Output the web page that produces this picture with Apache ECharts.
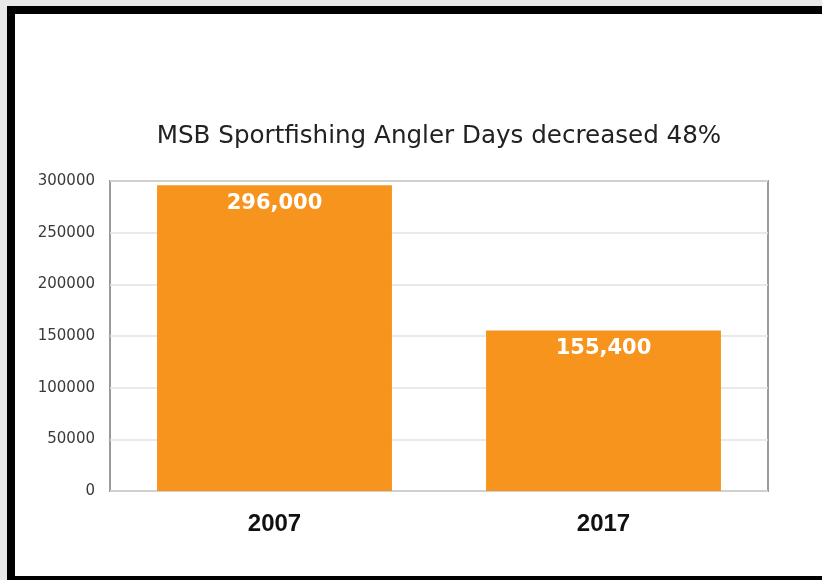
<!DOCTYPE html>
<html>
<head>
<meta charset="utf-8">
<script src="https://cdn.jsdelivr.net/npm/echarts@6/dist/echarts.min.js"></script>
<style>
  html, body { margin: 0; padding: 0; width: 822px; height: 580px; overflow: hidden; background: #e8e8e8; }
  #frame { position: absolute; left: 7px; top: 6px; width: 815px; height: 574px; background: #ffffff;
           border-left: 8px solid #000; border-top: 8px solid #000; border-bottom: 4px solid #000; box-sizing: border-box; }
  #chart { position: absolute; left: 0; top: 0; width: 822px; height: 580px; }
</style>
</head>
<body>
<div id="frame"></div>
<div id="chart"></div>
<script>
const titleText = 'MSB Sportfishing Angler Days decreased 48%';
const categories = ['2007', '2017'];
const anglerDays = [296000, 155400];
const yMin = 0, yMax = 300000, yInterval = 50000;

const chart = echarts.init(document.getElementById('chart'), null, { renderer: 'canvas' });
chart.setOption({
  backgroundColor: 'transparent',
  animation: false,
  title: {
    text: titleText,
    left: 434,
    top: 119,
    textAlign: 'center',
    textStyle: { fontFamily: 'DejaVu Sans, sans-serif', fontSize: 24.6, fontWeight: 'normal', color: '#222' }
  },
  grid: {
    left: 110, top: 181, right: 54, bottom: 89,
    show: true, borderColor: '#9a9a9a', borderWidth: 2, backgroundColor: 'transparent'
  },
  xAxis: {
    type: 'category',
    data: categories,
    axisLine: { show: false },
    axisTick: { show: false },
    axisLabel: { margin: 21, fontFamily: 'Liberation Sans, Arial, sans-serif', fontSize: 24, fontWeight: 'bold', color: '#111' }
  },
  yAxis: {
    type: 'value',
    min: yMin, max: yMax, interval: yInterval,
    axisLine: { show: false },
    axisTick: { show: false },
    splitLine: { lineStyle: { color: '#e2e2e2', width: 1.5 } },
    axisLabel: { margin: 15, formatter: v => String(v), fontFamily: 'DejaVu Sans, sans-serif', fontSize: 15, color: '#3a3a3a' }
  },
  series: [{
    type: 'bar',
    data: anglerDays,
    barCategoryGap: '28.6%',
    itemStyle: { color: '#F7941E' },
    label: {
      show: true,
      position: 'insideTop',
      distance: 8,
      formatter: p => p.value.toLocaleString('en-US'),
      fontFamily: 'DejaVu Sans, sans-serif',
      fontSize: 21,
      fontWeight: 'bold',
      color: '#ffffff'
    }
  }]
});
</script>
</body>
</html>
